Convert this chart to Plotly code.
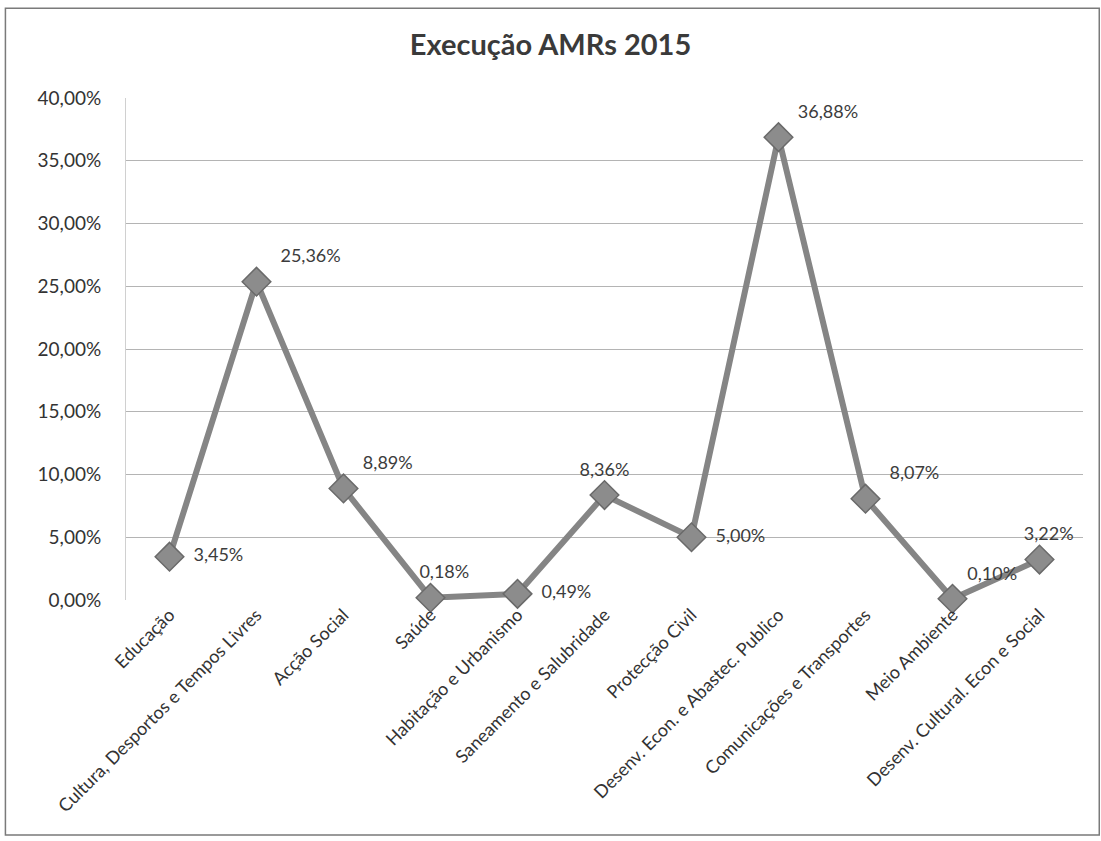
import plotly.graph_objects as go

# Execution share per area, AMRs 2015
categories = [
    "Educação",
    "Cultura, Desportos e Tempos Livres",
    "Acção Social",
    "Saúde",
    "Habitação e Urbanismo",
    "Saneamento e Salubridade",
    "Protecção Civil",
    "Desenv. Econ. e Abastec. Publico",
    "Comunicações e Transportes",
    "Meio Ambiente",
    "Desenv. Cultural. Econ e Social",
]
values = [3.45, 25.36, 8.89, 0.18, 0.49, 8.36, 5.00, 36.88, 8.07, 0.10, 3.22]
label_positions = [
    "middle right", "top right", "top right", "top center", "middle right",
    "top center", "middle right", "top right", "top right", "top right", "top center",
]
label_pad = ["  ", "  ", " ", "      ", "  ", "", "  ", " ", "  ", "", "    "]
y_ticks = [0, 5, 10, 15, 20, 25, 30, 35, 40]
y_tick_text = ["0,00%", "5,00%", "10,00%", "15,00%", "20,00%", "25,00%", "30,00%", "35,00%", "40,00%"]

labels = [p + f"{v:.2f}%".replace(".", ",") for p, v in zip(label_pad, values)]

FONT = "Lato, 'Open Sans', sans-serif"

fig = go.Figure(
    go.Scatter(
        x=categories,
        y=values,
        mode="lines+markers+text",
        line=dict(color="#858585", width=6),
        marker=dict(symbol="diamond", size=22, color="#8c8c8c",
                    line=dict(color="#6a6a6a", width=1.5)),
        text=labels,
        textposition=label_positions,
        textfont=dict(family=FONT, size=18, color="#3c3c3c"),
        cliponaxis=False,
        hoverinfo="skip",
    )
)

fig.update_layout(
    width=1101,
    height=841,
    margin=dict(l=126, r=18, t=98, b=241),
    paper_bgcolor="white",
    plot_bgcolor="white",
    showlegend=False,
    title=dict(
        text="<b>Execução AMRs 2015</b>",
        x=0.5,
        xanchor="center",
        y=0.947,
        yanchor="middle",
        font=dict(family=FONT, size=29, color="#3a3a3a"),
    ),
    xaxis=dict(
        type="category",
        range=[-0.5, 10.5],
        tickangle=-45,
        tickfont=dict(family=FONT, size=18, color="#333333"),
        showgrid=False,
        showline=False,
        ticks="",
        zeroline=False,
    ),
    yaxis=dict(
        range=[0, 40],
        tickvals=y_ticks,
        ticktext=y_tick_text,
        tickfont=dict(family=FONT, size=19, color="#333333"),
        ticklabelstandoff=20,
        showgrid=True,
        gridcolor="#b4b4b4",
        gridwidth=1,
        zeroline=False,
        showline=True,
        linecolor="#d0d0d0",
        linewidth=1,
        ticks="",
    ),
    shapes=[
        dict(type="rect", xref="paper", yref="paper",
             x0=-0.126, x1=1.017, y0=-0.468, y1=1.179,
             line=dict(color="#7a7a7a", width=1.5), fillcolor="rgba(0,0,0,0)",
             layer="below"),
    ],
)

fig.write_html("out.html")
